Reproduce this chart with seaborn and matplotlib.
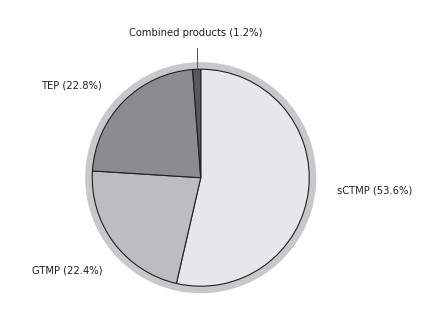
import matplotlib
matplotlib.use("Agg")
import matplotlib.pyplot as plt
import seaborn as sns
from matplotlib.patches import Circle

sns.set_theme(style="white")
plt.rcParams['font.family'] = ['DejaVu Sans']

categories = ["sCTMP", "GTMP", "TEP", "Combined products"]
values = [53.6, 22.4, 22.8, 1.2]
colors = ["#e6e7e8", "#bcbdc0", "#8b8c90", "#58595b"]
label_texts = ["sCTMP (53.6%)", "GTMP (22.4%)", "TEP (22.8%)", "Combined products (1.2%)"]

fig = plt.figure(figsize=(4.44, 3.09), dpi=100)
ax = fig.add_axes([0, 0, 1, 1])

ax.add_patch(Circle((0, 0), 1.065, facecolor="#c7c8ca", edgecolor="none", zorder=0))
ax.pie(values, colors=colors, startangle=90, counterclock=False,
       wedgeprops=dict(edgecolor="#231f20", linewidth=0.8), radius=1.0)

ax.set_xlim(-1.850, 2.242)
ax.set_ylim(-1.210, 1.638)
ax.set_aspect("equal")
ax.axis("off")

tc = "#231f20"
fs = 7.2
ax.text(1.253, -0.120, label_texts[0], ha="left", va="center", fontsize=fs, color=tc)
ax.text(-0.910, -0.851, label_texts[1], ha="right", va="center", fontsize=fs, color=tc)
ax.text(-0.910, 0.854, label_texts[2], ha="right", va="center", fontsize=fs, color=tc)
ax.text(-0.043, 1.334, label_texts[3], ha="center", va="center", fontsize=fs, color=tc)
ax.plot([-0.031, -0.031], [0.97, 1.20], color="#555555", linewidth=0.7, zorder=5)

fig.savefig("out.png", dpi=100)
